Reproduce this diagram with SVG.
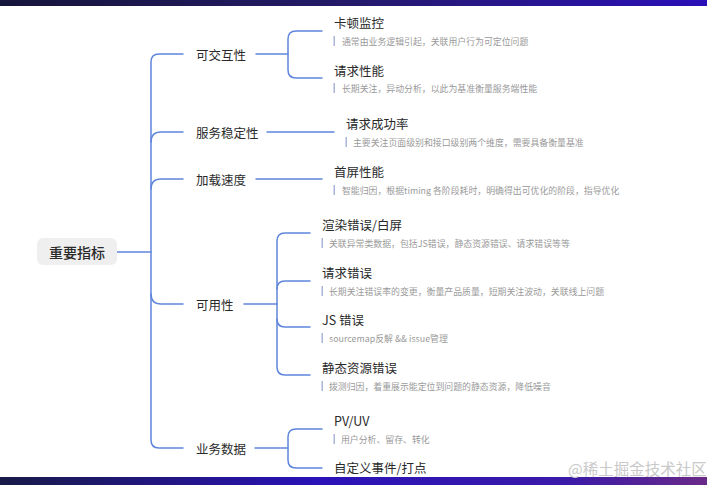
<svg xmlns="http://www.w3.org/2000/svg" width="707" height="485" viewBox="0 0 707 485">
<defs>
<linearGradient id="gTop" x1="0" y1="0" x2="1" y2="0">
<stop offset="0" stop-color="#16153a"/>
<stop offset="0.5" stop-color="#241a6a"/>
<stop offset="1" stop-color="#2a0fb8"/>
</linearGradient>
<linearGradient id="gBot" x1="0" y1="0" x2="1" y2="0">
<stop offset="0" stop-color="#181a48"/>
<stop offset="0.45" stop-color="#2a12b8"/>
<stop offset="0.8" stop-color="#3a1aa8"/>
<stop offset="1" stop-color="#6a2a88"/>
</linearGradient>
<style>
.ln{fill:none;stroke:#5f86dc;stroke-width:1.5;stroke-linecap:round}
.t{font-family:"Noto Sans CJK SC","Noto Sans",sans-serif;fill:#2a2a2a;dominant-baseline:central}
.l1{font-size:12.5px}
.l2{font-size:12.5px}
.root{font-size:14px;font-weight:500}
.d{font-family:"Noto Sans CJK SC","Noto Sans",sans-serif;font-size:8.9px;fill:#9a9a9a;dominant-baseline:central}
.bar{fill:#aab6d8}
.wm{font-family:"Noto Sans CJK SC",sans-serif;font-size:15.5px;fill:#c9c9c9;dominant-baseline:central}
</style>
</defs>
<rect x="0" y="0" width="707" height="485" fill="#ffffff"/>
<rect x="0" y="0" width="707" height="6" fill="url(#gTop)"/>
<rect x="0" y="477" width="707" height="8" fill="url(#gBot)"/>

<g id="connectors">
<path class="ln" d="M117,252 H151"/>
<path class="ln" d="M183,54 H159 Q151,54 151,62 V440 Q151,448 159,448 H183"/>
<path class="ln" d="M151,142 Q151,132 161,132 H183"/>
<path class="ln" d="M151,189 Q151,179 161,179 H183"/>
<path class="ln" d="M151,294 Q151,304 161,304 H183"/>
<path class="ln" d="M256,54 H288"/>
<path class="ln" d="M322,31 H296 Q288,31 288,39 V70 Q288,78 296,78 H322"/>
<path class="ln" d="M267,132 H334"/>
<path class="ln" d="M256,179 H322"/>
<path class="ln" d="M244,304 H277"/>
<path class="ln" d="M310,233 H285 Q277,233 277,241 V367 Q277,375 285,375 H310"/>
<path class="ln" d="M277,289 Q277,281 285,281 H310"/>
<path class="ln" d="M277,319 Q277,327 285,327 H310"/>
<path class="ln" d="M255,448 H288"/>
<path class="ln" d="M322,429 H296 Q288,429 288,437 V460 Q288,468 296,468 H322"/>
</g>

<g id="root">
<rect x="37" y="238" width="80" height="27" rx="6" fill="#efefef"/>
<text class="t root" x="77" y="252" text-anchor="middle">重要指标</text>
</g>

<g id="n-interact"><text class="t l1" x="196" y="54">可交互性</text></g>
<g id="n-stable"><text class="t l1" x="196" y="132">服务稳定性</text></g>
<g id="n-load"><text class="t l1" x="196" y="179">加载速度</text></g>
<g id="n-avail"><text class="t l1" x="196" y="304">可用性</text></g>
<g id="n-biz"><text class="t l1" x="196" y="448">业务数据</text></g>

<g id="n-jank">
<text class="t l2" x="334" y="22">卡顿监控</text>
<rect class="bar" x="333.5" y="36" width="1.5" height="10"/>
<text class="d" x="342" y="41">通常由业务逻辑引起，关联用户行为可定位问题</text>
</g>
<g id="n-reqperf">
<text class="t l2" x="334" y="70">请求性能</text>
<rect class="bar" x="333.5" y="83" width="1.5" height="10"/>
<text class="d" x="342" y="88">长期关注，异动分析，以此为基准衡量服务端性能</text>
</g>
<g id="n-success">
<text class="t l2" x="346" y="123">请求成功率</text>
<rect class="bar" x="345.5" y="137" width="1.5" height="10"/>
<text class="d" x="353" y="142">主要关注页面级别和接口级别两个维度，需要具备衡量基准</text>
</g>
<g id="n-fcp">
<text class="t l2" x="334" y="171">首屏性能</text>
<rect class="bar" x="333.5" y="185" width="1.5" height="10"/>
<text class="d" x="342" y="190">智能归因，根据timing 各阶段耗时，明确得出可优化的阶段，指导优化</text>
</g>
<g id="n-render">
<text class="t l2" x="322" y="224">渲染错误/白屏</text>
<rect class="bar" x="321.5" y="238" width="1.5" height="10"/>
<text class="d" x="329" y="243">关联异常类数据，包括JS错误，静态资源错误、请求错误等等</text>
</g>
<g id="n-reqerr">
<text class="t l2" x="322" y="272">请求错误</text>
<rect class="bar" x="321.5" y="286" width="1.5" height="10"/>
<text class="d" x="329" y="291">长期关注错误率的变更，衡量产品质量，短期关注波动，关联线上问题</text>
</g>
<g id="n-jserr">
<text class="t l2" x="322" y="319">JS 错误</text>
<rect class="bar" x="321.5" y="333" width="1.5" height="10"/>
<text class="d" x="329" y="338">sourcemap反解 &amp;&amp; issue管理</text>
</g>
<g id="n-static">
<text class="t l2" x="322" y="367">静态资源错误</text>
<rect class="bar" x="321.5" y="381" width="1.5" height="10"/>
<text class="d" x="329" y="386">拨测归因，着重展示能定位到问题的静态资源，降低噪音</text>
</g>
<g id="n-pvuv">
<text class="t l2" x="334" y="420">PV/UV</text>
<rect class="bar" x="333.5" y="434" width="1.5" height="10"/>
<text class="d" x="341" y="439">用户分析、留存、转化</text>
</g>
<g id="n-event">
<text class="t l2" x="334" y="467">自定义事件/打点</text>
</g>

<text class="wm" x="568" y="468">@稀土掘金技术社区</text>
</svg>
